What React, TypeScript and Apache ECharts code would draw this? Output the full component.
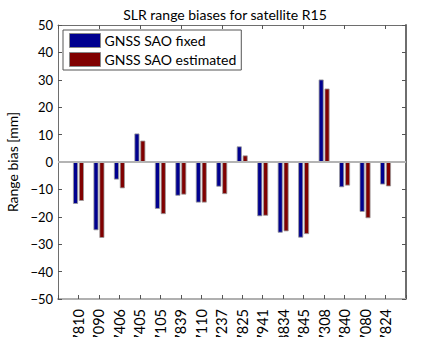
import React, { useEffect, useRef } from "react";
import * as echarts from "echarts";

const stations = ["7810", "7090", "7406", "7405", "7105", "7839", "7110", "7237", "7825", "7941", "8834", "7845", "7308", "7840", "7080", "7824"];
const saoFixed = [-15.3, -24.9, -6.4, 10.4, -17.1, -12.3, -14.8, -9.0, 5.7, -19.8, -25.8, -27.6, 30.1, -9.2, -18.2, -8.2];
const saoEstimated = [-14.2, -27.7, -9.6, 7.8, -19.0, -11.9, -14.8, -11.7, 2.4, -19.6, -25.3, -26.3, 26.8, -8.6, -20.5, -8.9];
const yTicks = [-50, -40, -30, -20, -10, 0, 10, 20, 30, 40, 50];

const FONT = "Lato, 'Open Sans', sans-serif";

export default function App() {
  const ref = useRef<HTMLDivElement>(null);
  useEffect(() => {
    if (!ref.current) return;
    const chart = echarts.init(ref.current, null, { renderer: "svg" });
    const cats = ["", ...stations, ""];
    const pad = (a: number[]) => [null, ...a, null];
    const axisColor = "#6e6e6e";
    const tick = { show: true, inside: true, length: 4, lineStyle: { color: "#555", width: 1 } };
    chart.setOption({
      animation: false,
      backgroundColor: "#fff",
      textStyle: { fontFamily: FONT },
      title: {
        text: "SLR range biases for satellite R15",
        left: 220,
        textAlign: "center",
        top: 2,
        textStyle: { fontSize: 14, fontWeight: "normal", color: "#000", fontFamily: FONT },
      },
      legend: {
        orient: "vertical",
        left: 63,
        top: 30,
        padding: [3, 5, 3, 6],
        itemGap: 4,
        itemWidth: 31,
        itemHeight: 14,
        backgroundColor: "#fff",
        borderColor: "#555",
        borderWidth: 1,
        borderRadius: 0,
        icon: "rect",
        itemStyle: { borderColor: "#888", borderWidth: 1 },
        textStyle: { fontSize: 14, color: "#000", fontFamily: FONT, padding: [0, 0, 0, -1] },
        data: ["GNSS SAO fixed", "GNSS SAO estimated"],
      },
      grid: { left: 58, right: 42, top: 25, bottom: 38, containLabel: false, outerBoundsMode: "none" },
      xAxis: [
        {
          type: "category",
          data: cats,
          boundaryGap: false,
          position: "bottom",
          axisLine: { onZero: false, lineStyle: { color: "#b0b0b0", width: 2 } },
          axisTick: tick,
          axisLabel: { rotate: 90, fontSize: 14.5, color: "#000", margin: 10, interval: 0, fontFamily: FONT },
          splitLine: { show: false },
        },
        {
          type: "category",
          data: cats,
          boundaryGap: false,
          position: "top",
          axisLine: { onZero: false, lineStyle: { color: axisColor, width: 1 } },
          axisTick: tick,
          axisLabel: { show: false },
          splitLine: { show: false },
        },
      ],
      yAxis: [
        {
          type: "value",
          min: -50,
          max: 50,
          interval: 10,
          name: "Range bias [mm]",
          nameLocation: "middle",
          nameGap: 30,
          nameTextStyle: { fontSize: 14, color: "#000", fontFamily: FONT },
          axisLine: { show: true, lineStyle: { color: axisColor, width: 1 } },
          axisTick: tick,
          axisLabel: {
            fontSize: 13,
            color: "#000",
            margin: 5,
            fontFamily: FONT,
            formatter: (v: number) => (yTicks.includes(v) ? String(v).replace("-", "\u2212") : ""),
          },
          splitLine: { show: false },
        },
        {
          type: "value",
          min: -50,
          max: 50,
          interval: 10,
          position: "right",
          axisLine: { show: true, lineStyle: { color: axisColor, width: 2 } },
          axisTick: tick,
          axisLabel: { show: false },
          splitLine: { show: false },
        },
      ],
      series: [
        {
          name: "GNSS SAO fixed",
          type: "bar",
          data: pad(saoFixed),
          barWidth: 5,
          barGap: "18%",
          itemStyle: { color: "#00008f", borderColor: "#9a9a9a", borderWidth: 0.8 },
          markLine: {
            silent: true,
            symbol: "none",
            label: { show: false },
            lineStyle: { color: "#b4b4b4", width: 2, type: "solid" },
            data: [{ yAxis: 0 }],
          },
        },
        {
          name: "GNSS SAO estimated",
          type: "bar",
          data: pad(saoEstimated),
          barWidth: 5,
          barGap: "18%",
          itemStyle: { color: "#800000", borderColor: "#9a9a9a", borderWidth: 0.8 },
        },
      ],
    });
    return () => chart.dispose();
  }, []);
  return (
    <div style={{ position: "fixed", left: 0, top: 0, width: 448, height: 337, overflow: "hidden", background: "#fff" }}>
      <div ref={ref} style={{ width: 448, height: 337, overflow: "hidden" }} />
    </div>
  );
}
